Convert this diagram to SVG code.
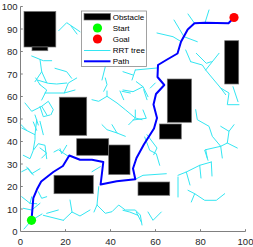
<svg xmlns="http://www.w3.org/2000/svg" width="253" height="247" viewBox="0 0 253 247">
<style>
.obs{fill:#000;stroke:#707070;stroke-width:0.7}
.tree{fill:none;stroke:#33e6f2;stroke-width:1;stroke-linejoin:round;stroke-linecap:round}
.path{fill:none;stroke:#0000ff;stroke-width:2;stroke-linejoin:round;stroke-linecap:round}
.ax{stroke:#808080;stroke-width:1;fill:none}
.tk{font-family:'Liberation Sans',Arial,sans-serif;font-size:9.5px;fill:#262626}
.lg{font-family:'Liberation Sans',Arial,sans-serif;font-size:8px;fill:#000}
</style>
<rect width="253" height="247" fill="#fff"/>
<g id="tree" class="tree">
<polyline points="58.7,30.7 66.7,22.7 80,31.7"/>
<polyline points="71,26 77,34"/>
<polyline points="31.7,56 43.3,60.7 51.7,60.7"/>
<polyline points="40,59.5 41.7,71.7 35,81.7"/>
<polyline points="41.7,71.7 46.7,82.7"/>
<polyline points="37.3,80 48.3,83.3 56.7,84 66.7,83"/>
<polyline points="40,84.7 35.7,78"/>
<polyline points="40,84.7 46.7,90 41.7,100"/>
<polyline points="45,93 64.3,93 68.3,83 76.7,78"/>
<polyline points="55,68.3 66.7,71.7 71.7,78.3"/>
<polyline points="64.3,93 75,90"/>
<polyline points="25,103 31.7,111.3 41.7,106.3 48.3,101.3 53.3,109.7 51,114.7"/>
<polyline points="41.7,106.3 46.7,114.7"/>
<polyline points="40,106.7 43.3,116.7 50,115"/>
<polyline points="35,115 38.3,125"/>
<polyline points="21.7,128 35,134.7 36.7,119.7"/>
<polyline points="40,121.3 43.3,134.7"/>
<polyline points="35,134.7 35,139.7 33.3,149.7"/>
<polyline points="40,148 46.7,153 41.7,158"/>
<polyline points="54,152 58.3,149.7 68.3,156.3"/>
<polyline points="33.3,122 36.7,130.3"/>
<polyline points="20,123.7 26.7,130.3"/>
<polyline points="23.3,155.3 30,158.7 33.3,150.3 38.3,143.7 45,145.3 46.7,158.7"/>
<polyline points="26.7,167 31.7,173.7 40,168.7"/>
<polyline points="60,148.7 61.7,153.7 66.7,145.3"/>
<polyline points="21.7,171.7 28.3,168.3 33.3,175"/>
<polyline points="38.3,191.7 41.7,198.3 46.7,196.7"/>
<polyline points="21.7,196.7 30,203.3 31.7,196.7"/>
<polyline points="23.3,208.3 31.7,210 40,203.3"/>
<polyline points="30,203.3 36.7,203.7"/>
<polyline points="46.7,213.3 58.3,210"/>
<polyline points="43.3,215.3 63.3,220.3"/>
<polyline points="31.5,220.3 24,229"/>
<polyline points="31.5,220.3 42,214"/>
<polyline points="63.3,220.3 72,212 80,216 90,210"/>
<polyline points="72,212 70,200"/>
<polyline points="105.3,78 107,84.7 103.7,91.3"/>
<polyline points="92,99.7 98.7,101.3 107,96.3 117,103 125.3,109.7 135.3,118 142,119.7"/>
<polyline points="107,96.3 107,91"/>
<polyline points="122,91.3 130.3,93"/>
<polyline points="120,91 123.7,99.7"/>
<polyline points="112,124.7 117,133 125.3,136.3"/>
<polyline points="102,124.7 107,129.7 117,133"/>
<polyline points="143.7,89.7 147,99.7"/>
<polyline points="150.3,88 155.3,83"/>
<polyline points="147,134.7 157,148 153.7,154.7"/>
<polyline points="135.3,110 135.3,118 128.7,124.7"/>
<polyline points="105.3,66.7 102,80"/>
<polyline points="135.3,70 132,80"/>
<polyline points="135.3,70 157,68"/>
<polyline points="157,33 173,36.7 181.3,41.7"/>
<polyline points="174,20 184,36.7 197.3,41.7"/>
<polyline points="205,22.8 209,10"/>
<polyline points="188,14 194.5,23.3"/>
<polyline points="196.3,53.3 206.3,63.3 211.3,61.7"/>
<polyline points="190.7,61.7 202.3,65 205.7,70 212.3,78 220.7,88 229,93 227.3,104.7 239,104.7"/>
<polyline points="205.7,70 219,53.3"/>
<polyline points="185.7,50 190.7,61.7"/>
<polyline points="123,90 133,91.7 143,86.7 148,96.7"/>
<polyline points="136.3,81.7 143,86.7"/>
<polyline points="123,71.7 133,75"/>
<polyline points="143,110 146.3,118.3 133,120"/>
<polyline points="233,86.7 238,101.7"/>
<polyline points="220.7,88 225.7,94.7"/>
<polyline points="195.7,109.7 197.3,119.7 209,126.3 212.3,136.3 220.7,146.3 222.3,158"/>
<polyline points="220.7,126.3 229,131.3 234,124.7"/>
<polyline points="229,131.3 227.3,143 220.7,146.3"/>
<polyline points="227.3,143 237.3,148"/>
<polyline points="205.7,149.7 220.7,146.3"/>
<polyline points="205.7,149.7 207.3,158"/>
<polyline points="144.7,137 149.7,150.3 156.3,153.7 159.7,165.3"/>
<polyline points="135.3,179.3 143,175.3 166.3,173.7"/>
<polyline points="178,175.3 186.3,172 199.7,165.3 211.3,162"/>
<polyline points="178,177 178,197"/>
<polyline points="204.7,150.3 208,160.3"/>
<polyline points="188,190.3 194.7,193.7 191.3,202"/>
<polyline points="194.7,193.7 204.7,200.3 216.3,200.3 224.7,193.7"/>
<polyline points="199.7,165.3 201,178"/>
<polyline points="211.3,162 212,176"/>
<polyline points="186.3,172 190,185"/>
<polyline points="123,210.3 129.7,212 138,215.3"/>
<polyline points="136.3,212 141.3,222"/>
<polyline points="148,212 153,220.3 161.3,212"/>
<polyline points="100.3,166.7 92,171.7"/>
<polyline points="98.7,186.7 97,205 105.3,213.3 112,211.7 118.7,205 125.3,210 135.3,210 140.3,215 142,225"/>
<polyline points="97,205 94,212"/>
</g>
<g id="obstacles">
<rect id="obs1" class="obs" x="24" y="11.5" width="31.8" height="35.5"/>
<rect id="obs1b" class="obs" x="32" y="47" width="15.8" height="3.7"/>
<rect id="obs2" class="obs" x="59.3" y="97.2" width="27.4" height="38.1"/>
<rect id="obs3" class="obs" x="76.7" y="138.7" width="32" height="16.6"/>
<rect id="obs4" class="obs" x="108.7" y="145" width="21.3" height="29.5"/>
<rect id="obs5" class="obs" x="159.5" y="124" width="21.8" height="15"/>
<rect id="obs6" class="obs" x="167.3" y="79" width="24.2" height="43.3"/>
<rect id="obs7" class="obs" x="224.7" y="40.7" width="14" height="43.3"/>
<rect id="obs8" class="obs" x="138" y="182" width="31.7" height="13.3"/>
<rect id="obs9" class="obs" x="54" y="175.3" width="39.3" height="18.4"/>
</g>
<g id="connectors">
<polyline id="path" class="path" points="31.5,220.3 33.3,198.2 37,189.3 41.2,181.5 53.3,172 62.9,166 69.3,155.5 80,159.7 92,159.8 103.3,162 100.6,184.5 116.7,181.3 135.3,179.3 133,168.5 136.5,158 144,144.3 154,128.5 157,118 153.5,104.5 156,94 164.3,85 157.5,77 158,65 166.3,60 177.5,53.5 181,41.7 187.7,29.5 194.5,23.3 205,22.8 228.5,23.3 234,17.5"/>
</g>
<g id="start"><circle cx="31.5" cy="220.3" r="4.6" fill="#00ff00"/></g>
<g id="goal"><circle cx="234" cy="17.5" r="4.6" fill="#ff0000"/></g>
<g id="axes">
<path class="ax" d="M20.5,6.5V231.5H245.5"/>
<path class="ax" d="M20.5,6.5h2.3M20.5,29h2.3M20.5,51.5h2.3M20.5,74h2.3M20.5,96.5h2.3M20.5,119h2.3M20.5,141.5h2.3M20.5,164h2.3M20.5,186.5h2.3M20.5,209h2.3M65.5,231.5v-2.3M110.5,231.5v-2.3M155.5,231.5v-2.3M200.5,231.5v-2.3M245.5,231.5v-2.3"/>
<g class="tk" text-anchor="end">
<text x="17.5" y="10">100</text>
<text x="17.5" y="32.5">90</text>
<text x="17.5" y="55">80</text>
<text x="17.5" y="77.5">70</text>
<text x="17.5" y="100">60</text>
<text x="17.5" y="122.5">50</text>
<text x="17.5" y="145">40</text>
<text x="17.5" y="167.5">30</text>
<text x="17.5" y="190">20</text>
<text x="17.5" y="212.5">10</text>
<text x="17.5" y="235">0</text>
</g>
<g class="tk" text-anchor="middle">
<text x="20.5" y="244.5">0</text>
<text x="65.5" y="244.5">20</text>
<text x="110.5" y="244.5">40</text>
<text x="155.5" y="244.5">60</text>
<text x="200.5" y="244.5">80</text>
<text x="245.5" y="244.5">100</text>
</g>
</g>
<g id="legend">
<rect x="81.5" y="11" width="65" height="55.5" fill="#fff" stroke="#8a8a8a" stroke-width="0.8"/>
<rect class="obs" x="84" y="13.5" width="26.5" height="6.5"/>
<circle cx="97.5" cy="28" r="4.6" fill="#00ff00"/>
<circle cx="97.5" cy="39" r="4.6" fill="#ff0000"/>
<line x1="84" y1="50.5" x2="110.5" y2="50.5" stroke="#33e6f2" stroke-width="1"/>
<line x1="84" y1="61.3" x2="110.5" y2="61.3" stroke="#0000ff" stroke-width="2"/>
<text class="lg" x="112.7" y="19.6">Obstacle</text>
<text class="lg" x="112.7" y="30.9">Start</text>
<text class="lg" x="112.7" y="41.9">Goal</text>
<text class="lg" x="112.7" y="53.4">RRT tree</text>
<text class="lg" x="112.7" y="64.2">Path</text>
</g>
</svg>
